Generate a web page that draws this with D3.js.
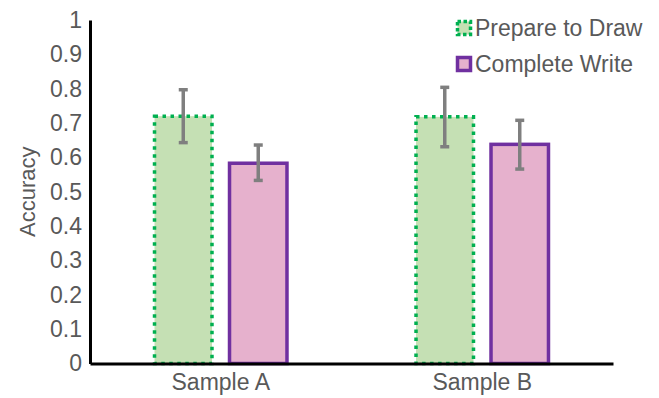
<!DOCTYPE html>
<html>
<head>
<meta charset="utf-8">
<script src="https://cdn.jsdelivr.net/npm/d3@7"></script>
<style>
  html, body { margin: 0; padding: 0; background: #fff; }
  svg { display: block; font-family: "Liberation Sans", Arial, sans-serif; }
</style>
</head>
<body>
<svg id="chart" width="659" height="398"></svg>
<script>
const categories = ["Sample A", "Sample B"];
const seriesNames = ["Prepare to Draw", "Complete Write"];
const prepareValues = [0.72, 0.718];
const completeValues = [0.583, 0.638];
const prepareErrLow = [0.643, 0.631];
const prepareErrHigh = [0.797, 0.804];
const completeErrLow = [0.533, 0.566];
const completeErrHigh = [0.636, 0.708];
const yTicks = [0, 0.1, 0.2, 0.3, 0.4, 0.5, 0.6, 0.7, 0.8, 0.9, 1];
const yTickLabels = ["0", "0.1", "0.2", "0.3", "0.4", "0.5", "0.6", "0.7", "0.8", "0.9", "1"];

const styles = {
  "Prepare to Draw": { fill: "#c5e0b4", stroke: "#00b050", dash: "3.5 4.5" },
  "Complete Write": { fill: "#e6b1cd", stroke: "#7030a0", dash: null }
};

const svg = d3.select("#chart");
const mLeft = 90, mRight = 613, mTop = 20, mBottom = 363.5;
const fs = 23;

const y = d3.scaleLinear().domain([0, 1]).range([mBottom, mTop]);
const x0 = d3.scaleBand().domain(categories).range([mLeft, mRight]).padding(0);
const x1 = d3.scaleBand().domain(seriesNames).range([0, x0.bandwidth()])
  .paddingInner(0.187).paddingOuter(0.837);

const data = [];
categories.forEach((c, i) => {
  data.push({ cat: c, s: seriesNames[0], v: prepareValues[i], lo: prepareErrLow[i], hi: prepareErrHigh[i] });
  data.push({ cat: c, s: seriesNames[1], v: completeValues[i], lo: completeErrLow[i], hi: completeErrHigh[i] });
});

const sw = 3.5;
// bars
svg.append("g").selectAll("rect").data(data).join("rect")
  .attr("x", d => x0(d.cat) + x1(d.s) + sw / 2)
  .attr("width", x1.bandwidth() - sw)
  .attr("y", d => y(d.v))
  .attr("height", d => y(0) - y(d.v))
  .attr("fill", d => styles[d.s].fill)
  .attr("stroke", d => styles[d.s].stroke)
  .attr("stroke-width", sw)
  .attr("stroke-dasharray", d => styles[d.s].dash);

// error bars
const eg = svg.append("g").attr("stroke", "#7f7f7f").attr("stroke-width", 3.5);
data.forEach(d => {
  const cx = x0(d.cat) + x1(d.s) + x1.bandwidth() / 2;
  eg.append("line").attr("x1", cx).attr("x2", cx).attr("y1", y(d.lo)).attr("y2", y(d.hi));
  eg.append("line").attr("x1", cx - 4.5).attr("x2", cx + 4.5).attr("y1", y(d.lo)).attr("y2", y(d.lo));
  eg.append("line").attr("x1", cx - 4.5).attr("x2", cx + 4.5).attr("y1", y(d.hi)).attr("y2", y(d.hi));
});

// y axis
const yAxis = d3.axisLeft(y).tickValues(yTicks).tickFormat((d, i) => yTickLabels[i]).tickSize(0).tickPadding(8);
const gy = svg.append("g").attr("transform", `translate(${mLeft},0)`).call(yAxis);
gy.select(".domain").attr("stroke", "#000").attr("stroke-width", 3);
gy.selectAll("text").attr("fill", "#595959").attr("font-size", fs).attr("font-family", "Liberation Sans, Arial, sans-serif");

// x axis
const xAxis = d3.axisBottom(x0).tickSize(0).tickPadding(10);
const gx = svg.append("g").attr("transform", `translate(0,${mBottom})`).call(xAxis);
gx.select(".domain").attr("stroke", "#000").attr("stroke-width", 3);
gx.selectAll("text").attr("fill", "#595959").attr("font-size", fs).attr("font-family", "Liberation Sans, Arial, sans-serif");

// y title
svg.append("text")
  .attr("transform", `translate(35,${(mTop + mBottom) / 2}) rotate(-90)`)
  .attr("text-anchor", "middle")
  .attr("fill", "#595959")
  .attr("font-size", 22)
  .text("Accuracy");

// legend
const lg = svg.append("g");
seriesNames.forEach((s, i) => {
  const ly = 20 + i * 36;
  lg.append("rect")
    .attr("x", 457.5).attr("y", ly + 1.5)
    .attr("width", 13).attr("height", 13)
    .attr("fill", styles[s].fill)
    .attr("stroke", styles[s].stroke)
    .attr("stroke-width", 3.5)
    .attr("stroke-dasharray", styles[s].dash ? "3.5 2.5" : null);
  lg.append("text")
    .attr("x", 475).attr("y", ly + 16)
    .attr("fill", "#595959")
    .attr("font-size", fs)
    .text(s);
});
</script>
</body>
</html>
